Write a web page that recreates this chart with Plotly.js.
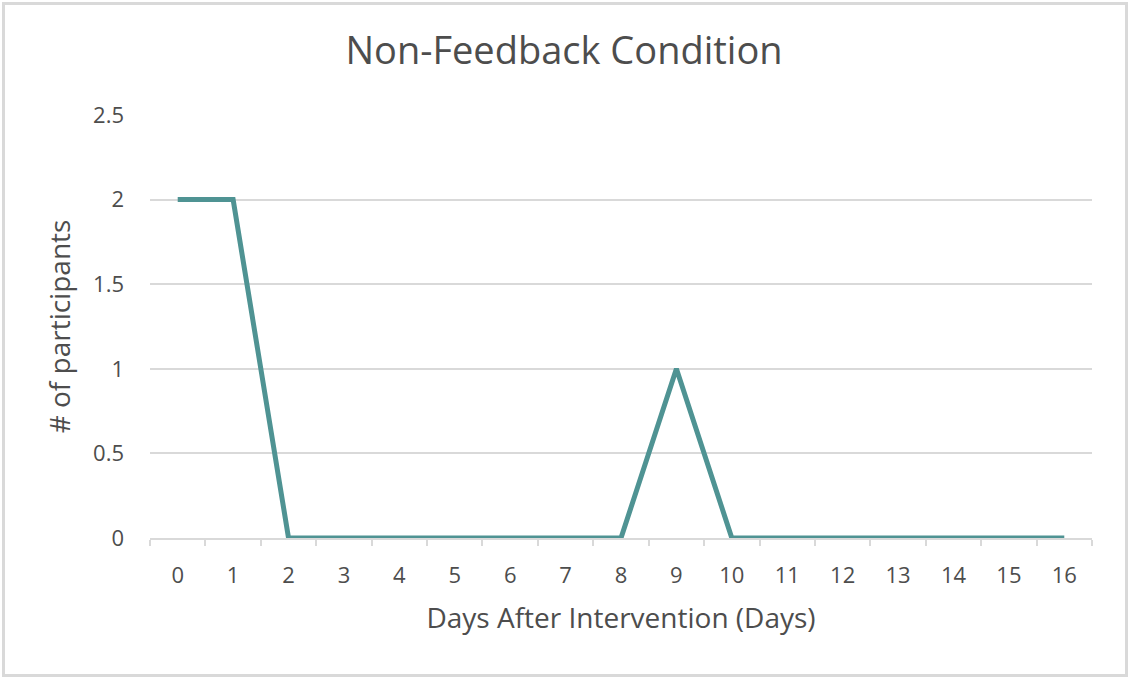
<!DOCTYPE html>
<html>
<head>
<meta charset="utf-8">
<script src="https://cdn.plot.ly/plotly-3.0.1.min.js"></script>
<style>
  html, body { margin: 0; padding: 0; background: #fff; }
  #wrap { position: relative; width: 1128px; height: 677px; overflow: hidden; }
  #chart { position: absolute; left: 0; top: 0; width: 1128px; height: 677px; }
  #frame { position: absolute; left: 2px; top: 2px; width: 1120px; height: 669px;
           border: 3px solid #d9d9d9; pointer-events: none; }
</style>
</head>
<body>
<div id="wrap">
  <div id="chart"></div>
  <div id="frame"></div>
</div>
<script>
const days = ["0","1","2","3","4","5","6","7","8","9","10","11","12","13","14","15","16"];
const participants = [2, 2, 0, 0, 0, 0, 0, 0, 0, 1, 0, 0, 0, 0, 0, 0, 0];
const titleText = "Non-Feedback Condition";
const xTitle = "Days After Intervention (Days)";
const yTitle = "# of participants";

const textColor = "#4d4d4d";
const gridColor = "#d9d9d9";
const fontFam = "Open Sans, sans-serif";

const trace = {
  x: days,
  y: participants,
  type: "scatter",
  mode: "lines",
  line: { color: "#4f9393", width: 5 },
  hoverinfo: "x+y"
};

const layout = {
  width: 1128,
  height: 677,
  margin: { l: 150, r: 36, t: 115, b: 139 },
  paper_bgcolor: "#ffffff",
  plot_bgcolor: "#ffffff",
  showlegend: false,
  font: { family: fontFam, color: textColor },
  title: {
    text: titleText,
    font: { family: fontFam, size: 38, color: textColor },
    x: 0.5, xanchor: "center",
    y: 0.925, yanchor: "middle"
  },
  xaxis: {
    type: "category",
    range: [-0.5, 16.5],
    tickson: "boundaries",
    ticks: "outside",
    ticklen: 6,
    tickwidth: 2,
    tickcolor: gridColor,
    showline: true,
    linecolor: gridColor,
    linewidth: 2,
    showgrid: false,
    zeroline: false,
    tickfont: { family: fontFam, size: 22, color: textColor },
    ticklabelstandoff: 17,
    title: { text: xTitle, font: { family: fontFam, size: 28, color: textColor }, standoff: 20 },
    fixedrange: true
  },
  yaxis: {
    range: [0, 2.5],
    tickvals: [0, 0.5, 1, 1.5, 2, 2.5],
    ticktext: ["0", "0.5", "1", "1.5", "2", "2.5"],
    showgrid: true,
    gridcolor: gridColor,
    gridwidth: 2,
    zeroline: false,
    showline: false,
    ticks: "",
    tickfont: { family: fontFam, size: 22, color: textColor },
    ticklabelstandoff: 25,
    title: { text: yTitle, font: { family: fontFam, size: 28, color: textColor }, standoff: 14 },
    fixedrange: true
  }
};

Plotly.newPlot("chart", [trace], layout, { displayModeBar: false, staticPlot: true });
</script>
</body>
</html>
